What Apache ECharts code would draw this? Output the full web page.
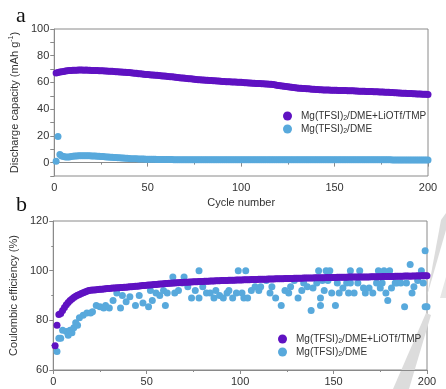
<!DOCTYPE html>
<html><head><meta charset="utf-8">
<script src="https://cdn.jsdelivr.net/npm/echarts@6/dist/echarts.min.js"></script>
<style>html,body{margin:0;padding:0;background:#fff}#c{width:446px;height:389px}</style>
</head><body><div id="c"></div>
<script>
// Panel a: discharge capacity (mAh g-1) per cycle 1..200
const capLiOTf = [
67.0,67.5,67.8,68.0,68.2,68.5,68.7,68.9,69.0,69.1,
69.2,69.2,69.3,69.3,69.3,69.2,69.3,69.2,69.1,69.0,
69.0,68.9,68.9,68.8,68.7,68.7,68.6,68.5,68.4,68.4,
68.3,68.2,68.1,68.0,67.9,67.8,67.7,67.6,67.5,67.4,
67.2,67.1,66.9,66.8,66.6,66.5,66.3,66.2,66.0,65.9,
65.8,65.6,65.5,65.4,65.3,65.2,65.0,64.9,64.8,64.6,
64.5,64.3,64.2,64.0,63.9,63.7,63.6,63.4,63.3,63.1,
63.0,62.8,62.7,62.5,62.4,62.3,62.1,62.0,61.9,61.8,
61.7,61.6,61.5,61.4,61.3,61.2,61.1,61.0,60.9,60.8,
60.7,60.6,60.5,60.5,60.4,60.3,60.3,60.2,60.2,60.1,
60.0,59.8,59.7,59.6,59.5,59.4,59.4,59.3,59.3,59.2,
59.1,59.0,58.9,58.8,58.7,58.6,58.4,58.2,58.0,57.8,
57.6,57.4,57.2,57.0,56.8,56.6,56.4,56.2,56.0,55.9,
55.7,55.6,55.5,55.4,55.3,55.2,55.1,55.0,54.9,54.8,
54.7,54.6,54.5,54.4,54.4,54.3,54.3,54.2,54.2,54.1,
54.1,54.0,54.0,53.9,53.9,53.9,53.8,53.8,53.7,53.7,
53.6,53.6,53.5,53.5,53.4,53.4,53.3,53.3,53.2,53.2,
53.1,53.0,53.0,52.9,52.8,52.8,52.7,52.6,52.6,52.5,
52.4,52.3,52.3,52.2,52.1,52.0,52.0,51.9,51.8,51.7,
51.7,51.6,51.5,51.4,51.4,51.3,51.2,51.1,51.1,51.0];
const capDME = [
1.0,19.5,6.0,5.0,4.5,4.3,4.2,4.3,4.5,4.8,
5.0,5.0,5.1,5.1,5.2,5.2,5.2,5.1,5.1,5.0,
5.0,4.9,4.8,4.7,4.6,4.5,4.4,4.3,4.2,4.1,
4.0,3.9,3.8,3.7,3.6,3.5,3.4,3.3,3.2,3.1,
3.0,3.0,2.9,2.9,2.8,2.8,2.7,2.7,2.6,2.6,
2.6,2.5,2.5,2.5,2.4,2.4,2.4,2.4,2.3,2.3,
2.3,2.3,2.3,2.2,2.2,2.2,2.2,2.2,2.2,2.2,
2.2,2.2,2.2,2.2,2.2,2.2,2.1,2.1,2.1,2.1,
2.1,2.1,2.1,2.1,2.1,2.1,2.1,2.1,2.1,2.1,
2.1,2.1,2.1,2.1,2.1,2.1,2.1,2.1,2.1,2.1,
2.1,2.1,2.1,2.1,2.1,2.1,2.1,2.1,2.1,2.1,
2.1,2.1,2.1,2.1,2.1,2.1,2.1,2.1,2.1,2.1,
2.1,2.1,2.1,2.1,2.1,2.1,2.1,2.1,2.1,2.1,
2.1,2.1,2.1,2.1,2.1,2.1,2.1,2.1,2.1,2.1,
2.1,2.1,2.1,2.1,2.1,2.1,2.1,2.1,2.1,2.1,
2.1,2.1,2.1,2.1,2.1,2.1,2.1,2.1,2.1,2.1,
2.1,2.1,2.1,2.1,2.1,2.1,2.1,2.1,2.1,2.1,
2.1,2.1,2.1,2.1,2.1,2.1,2.1,2.1,2.1,2.1,
2.0,2.0,2.0,2.0,2.0,2.0,2.0,2.0,2.0,1.9,
1.9,2.0,2.0,2.0,2.0,2.0,2.0,2.0,2.0,2.0];
// Panel b: coulombic efficiency (%)
const ceLiOTf = [
69.8,78.0,82.3,82.8,84.0,85.2,86.3,87.2,88.0,88.6,
89.2,89.7,90.1,90.4,90.8,91.1,91.4,91.7,92.0,92.1,
92.2,92.2,92.3,92.4,92.5,92.5,92.6,92.7,92.8,92.8,
92.9,93.0,93.0,93.1,93.1,93.2,93.2,93.3,93.3,93.4,
93.5,93.5,93.6,93.7,93.7,93.8,93.9,94.0,94.0,94.1,
94.2,94.2,94.3,94.4,94.4,94.5,94.6,94.6,94.7,94.8,
94.8,94.9,94.9,95.0,95.0,95.1,95.1,95.2,95.2,95.3,
95.3,95.3,95.4,95.4,95.5,95.5,95.5,95.6,95.6,95.6,
95.7,95.7,95.7,95.8,95.8,95.8,95.9,95.9,95.9,96.0,
96.0,96.0,96.0,96.1,96.1,96.1,96.1,96.2,96.2,96.2,
96.2,96.3,96.3,96.3,96.3,96.4,96.4,96.4,96.4,96.5,
96.5,96.5,96.5,96.5,96.6,96.6,96.6,96.6,96.7,96.7,
96.7,96.7,96.7,96.8,96.8,96.8,96.8,96.8,96.9,96.9,
96.9,96.9,96.9,97.0,97.0,97.0,97.0,97.0,97.0,97.1,
97.1,97.1,97.1,97.1,97.1,97.2,97.2,97.2,97.2,97.2,
97.2,97.3,97.3,97.3,97.3,97.3,97.3,97.4,97.4,97.4,
97.4,97.4,97.4,97.5,97.5,97.5,97.5,97.5,97.5,97.6,
97.6,97.6,97.6,97.6,97.6,97.7,97.7,97.7,97.7,97.7,
97.7,97.7,97.8,97.8,97.8,97.8,97.8,97.9,97.9,97.9,
97.8,97.9,97.9,97.9,98.0,97.9,98.0,98.0,98.0,98.0];
const ceDMEcycles = [2,3,4,5,7,8,9,10,11,12,13,14,16,18,20,21,23,25,27,28,30,32,34,36,37,39,41,44,46,48,51,52,53,55,57,59,60,61,64,65,67,69,70,72,74,76,78,78,80,82,84,86,87,89,91,93,94,96,98,99,101,102,103,104,106,108,110,111,114,116,117,119,122,124,126,127,129,131,133,134,136,138,139,141,142,143,143,144,145,146,147,148,149,151,152,153,155,157,158,159,159,161,163,164,166,167,169,171,173,174,175,176,177,178,179,180,181,183,184,186,188,189,191,192,193,195,197,198,199,199,200];
const ceDMEvalues = [67.4,72.8,72.8,76.0,75.5,74.0,76.0,75.0,77.0,79.0,78.0,81.0,82.0,83.0,83.0,83.5,86.0,85.5,85.0,86.0,85.0,88.0,91.0,85.0,90.0,87.5,89.5,86.0,90.0,87.0,85.5,92.0,88.0,91.0,90.0,92.0,86.0,91.0,97.5,91.0,92.0,95.0,97.5,93.5,89.0,92.0,89.0,100.0,93.5,91.0,91.0,89.0,92.0,90.0,89.0,91.0,92.0,89.0,91.0,100.0,91.0,89.0,100.0,89.0,92.0,93.5,92.0,93.5,96.0,91.0,93.5,89.0,86.0,92.0,91.0,93.5,96.0,89.0,92.0,95.0,93.5,84.0,93.0,95.0,100.0,89.0,86.0,96.0,92.0,100.0,96.0,100.0,91.0,86.0,95.0,91.0,93.0,95.0,91.0,100.0,95.0,91.0,95.0,100.0,93.0,91.0,93.0,91.0,95.0,100.0,93.0,95.0,100.0,91.0,88.0,100.0,93.0,95.0,95.0,95.0,85.5,95.0,102.5,91.0,93.5,96.0,100.0,95.0,85.5,108.0,85.5];
const cycles = capLiOTf.map((_, i) => i + 1);

const nameLi = 'Mg(TFSI){sub|2}/DME+LiOTf/TMP';
const nameDME = 'Mg(TFSI){sub|2}/DME';
const PURPLE = '#5f12c2';
const BLUE = '#58a9dc';
const F = 'Liberation Sans, Arial, sans-serif';
const lbl = {color:'#333', fontSize:11, fontFamily:F};
const axLine = {show:true, lineStyle:{color:'#8a8a8a', width:1}};
const tick = {show:true, length:4, lineStyle:{color:'#8a8a8a'}};
const minor = {show:true, splitNumber:2, length:2, lineStyle:{color:'#8a8a8a'}};

const chart = echarts.init(document.getElementById('c'), null, {renderer:'canvas'});
const legendText = {fontSize:10, fontFamily:F, color:'#333', padding:[0,0,0,4],
  rich:{sub:{fontSize:7, fontFamily:F, color:'#333', verticalAlign:'bottom', padding:[5,0,0,0]}}};
chart.setOption({
  animation:false,
  backgroundColor:'#fff',
  graphic:[
    {type:'polygon', z:0, shape:{points:[[441,220],[446,213],[446,230],[427,296]]}, style:{fill:'#dcdcdc'}},
    {type:'polygon', z:0, shape:{points:[[426,313],[431,315],[409,389],[393,389]]}, style:{fill:'#dcdcdc'}},
    {type:'polygon', z:0, shape:{points:[[446,277],[446,298],[440,298]]}, style:{fill:'#e6e6e6'}},
    {type:'text', left:16, top:5, style:{text:'a', font:'22px "Liberation Serif", serif', fill:'#111'}},
    {type:'text', left:16, top:194, style:{text:'b', font:'22px "Liberation Serif", serif', fill:'#111'}}
  ],
  grid:[
    {left:52, right:18, top:29, height:147, show:true, borderColor:'#8a8a8a', borderWidth:1},
    {left:53, right:19, top:221, height:149, show:true, borderColor:'#8a8a8a', borderWidth:1}
  ],
  legend:[
    {show:true, orient:'vertical', left:283, top:111, padding:0, itemWidth:9, itemHeight:9, itemGap:2, icon:'circle',
     data:[{name:'A_Li'},{name:'A_DME'}],
     formatter:n => n === 'A_Li' ? nameLi : nameDME, textStyle:legendText, selectedMode:false},
    {show:true, orient:'vertical', left:278, top:334, padding:0, itemWidth:9, itemHeight:9, itemGap:2, icon:'circle',
     data:[{name:'B_Li'},{name:'B_DME'}],
     formatter:n => n === 'B_Li' ? nameLi : nameDME, textStyle:legendText, selectedMode:false}
  ],
  xAxis:[
    {gridIndex:0, type:'value', min:0, max:200, interval:50, name:'Cycle number', nameLocation:'middle', nameGap:21,
     nameTextStyle:{color:'#333', fontSize:11, fontFamily:F}, axisLine:axLine, axisTick:tick, minorTick:minor,
     splitLine:{show:false}, axisLabel:Object.assign({margin:6}, lbl)},
    {gridIndex:1, type:'value', min:0, max:200, interval:50, axisLine:axLine, axisTick:tick, minorTick:minor,
     splitLine:{show:false}, axisLabel:Object.assign({margin:6}, lbl)}
  ],
  yAxis:[
    {gridIndex:0, type:'value', min:-10, max:100, interval:10,
     name:'Discharge capacity (mAh g{sup|-1})', nameLocation:'middle', nameGap:27, nameRotate:90,
     nameTextStyle:{color:'#333', fontSize:11, fontFamily:F, rich:{sup:{fontSize:7, fontFamily:F, color:'#333', verticalAlign:'top', padding:[0,0,6,0]}}},
     axisLine:axLine, axisTick:tick, splitLine:{show:false},
     axisLabel:Object.assign({margin:5, formatter:v => (v % 20 === 0 ? String(v) : '')}, lbl)},
    {gridIndex:1, type:'value', min:60, max:120, interval:20,
     name:'Coulombic efficiency (%)', nameLocation:'middle', nameGap:28, nameRotate:90,
     nameTextStyle:{color:'#333', fontSize:11, fontFamily:F},
     axisLine:axLine, axisTick:tick, minorTick:minor, splitLine:{show:false},
     axisLabel:Object.assign({margin:5}, lbl)}
  ],
  series:[
    {type:'scatter', name:'A_DME', z:3, xAxisIndex:0, yAxisIndex:0, symbolSize:7, itemStyle:{color:BLUE, opacity:1},
     data:cycles.map((c,i)=>[c, capDME[i]])},
    {type:'scatter', name:'A_Li', z:3, xAxisIndex:0, yAxisIndex:0, symbolSize:7, itemStyle:{color:PURPLE, opacity:1},
     data:cycles.map((c,i)=>[c, capLiOTf[i]])},
    {type:'scatter', name:'B_DME', z:3, xAxisIndex:1, yAxisIndex:1, symbolSize:7, itemStyle:{color:BLUE, opacity:1},
     data:ceDMEcycles.map((c,i)=>[c, ceDMEvalues[i]])},
    {type:'scatter', name:'B_Li', z:3, xAxisIndex:1, yAxisIndex:1, symbolSize:7, itemStyle:{color:PURPLE, opacity:1},
     data:cycles.map((c,i)=>[c, ceLiOTf[i]])}
  ]
});
</script></body></html>
